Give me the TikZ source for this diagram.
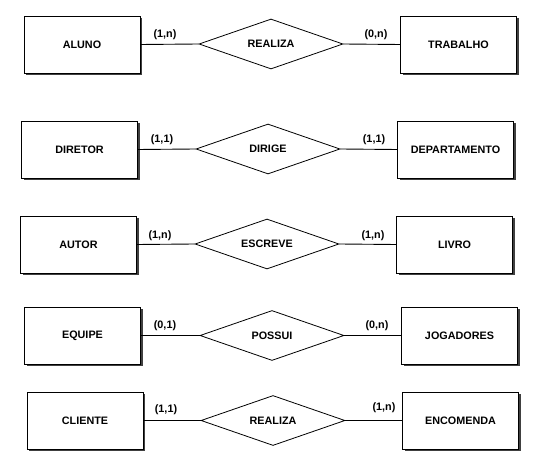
\documentclass[tikz,border=0pt]{standalone}
\usepackage{fontspec}
\setmainfont{Liberation Sans}
\usetikzlibrary{shapes.geometric,shadows}
\tikzset{
  ent/.style={draw, fill=white, line width=0.9pt, minimum width=116pt, minimum height=57pt, inner sep=0pt,
    font=\bfseries\fontsize{10.8}{12}\selectfont,
    drop shadow={shadow xshift=2pt, shadow yshift=-2pt, shadow scale=1, fill=black!75, opacity=1}},
  rel/.style={draw, fill=white, diamond, aspect=2.88, line width=0.8pt, minimum width=144pt, minimum height=50pt, inner sep=0pt,
    font=\bfseries\fontsize{10.8}{12}\selectfont},
  card/.style={inner sep=0pt, font=\bfseries\fontsize{10.8}{12}\selectfont},
  lnk/.style={line width=0.9pt}
}
\begin{document}
\begin{tikzpicture}[x=1pt,y=-1pt]
\useasboundingbox (0,0) rectangle (541,454);
% row 1
\node[ent] (a1) at (82,44.5) {ALUNO};
\node[rel] (r1) at (271,44) {REALIZA};
\node[ent] (b1) at (458.5,44.5) {TRABALHO};
\draw[lnk] (a1.east) -- (r1.west);
\draw[lnk] (r1.east) -- (b1.west);
\node[card] (c1a) at (165,35) {(1,n)};
\node[card] (c1b) at (376,35) {(0,n)};
% row 2
\node[ent] (a2) at (79.5,149.5) {DIRETOR};
\node[rel] (r2) at (268,149) {DIRIGE};
\node[ent] (b2) at (455.5,149.5) {DEPARTAMENTO};
\draw[lnk] (a2.east) -- (r2.west);
\draw[lnk] (r2.east) -- (b2.west);
\node[card] (c2a) at (162,140) {(1,1)};
\node[card] (c2b) at (374,140) {(1,1)};
% row 3
\node[ent] (a3) at (78.5,244.5) {AUTOR};
\node[rel] (r3) at (267,244) {ESCREVE};
\node[ent] (b3) at (454.5,244.5) {LIVRO};
\draw[lnk] (a3.east) -- (r3.west);
\draw[lnk] (r3.east) -- (b3.west);
\node[card] (c3a) at (160,236) {(1,n)};
\node[card] (c3b) at (373,236) {(1,n)};
% row 4
\node[ent] (a4) at (82.5,335.5) {EQUIPE};
\node[rel] (r4) at (272,335.5) {POSSUI};
\node[ent] (b4) at (459.5,335.5) {JOGADORES};
\draw[lnk] (a4.east) -- (r4.west);
\draw[lnk] (r4.east) -- (b4.west);
\node[card] (c4a) at (165,326) {(0,1)};
\node[card] (c4b) at (377,326) {(0,n)};
% row 5
\node[ent] (a5) at (85,420.5) {CLIENTE};
\node[rel] (r5) at (273,420.5) {REALIZA};
\node[ent] (b5) at (460.5,420.5) {ENCOMENDA};
\draw[lnk] (a5.east) -- (r5.west);
\draw[lnk] (r5.east) -- (b5.west);
\node[card] (c5a) at (166,410) {(1,1)};
\node[card] (c5b) at (384,408) {(1,n)};
\end{tikzpicture}
\end{document}
